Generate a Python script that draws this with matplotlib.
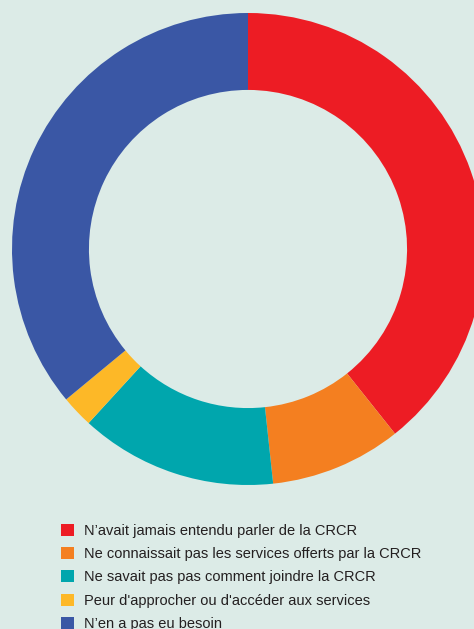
import matplotlib
matplotlib.use('Agg')
import matplotlib.pyplot as plt

# Raisons de ne pas avoir fait appel à la CRCR (%)
labels = [
    "N’avait jamais entendu parler de la CRCR",
    "Ne connaissait pas les services offerts par la CRCR",
    "Ne savait pas pas comment joindre la CRCR",
    "Peur d'approcher ou d'accéder aux services",
    "N’en a pas eu besoin",
]
values = [39.3, 9.0, 13.5, 2.2, 36.0]
colors = ['#ed1c24', '#f47f20', '#00a6ad', '#fdb827', '#3a57a5']
bg = '#dcebe7'

plt.rcParams['font.family'] = ['Liberation Sans', 'DejaVu Sans']

W, H = 474, 629
fig = plt.figure(figsize=(W / 100, H / 100), dpi=100, facecolor=bg)

# Donut centered at (248, 249) px with outer radius 236 px
cx, cy, r = 248, 249, 236
ax = fig.add_axes([(cx - r) / W, (H - cy - r) / H, 2 * r / W, 2 * r / H])
ax.set_facecolor(bg)
wedges, _ = ax.pie(values, colors=colors, startangle=90, counterclock=False,
                   radius=1, wedgeprops=dict(width=0.326, linewidth=0))
ax.set_xlim(-1, 1)
ax.set_ylim(-1, 1)
ax.set_aspect('equal')
ax.axis('off')

leg = fig.legend(wedges, labels, loc='upper left', bbox_to_anchor=(56.5 / W, 1 - 519.5 / H),
                 frameon=False, fontsize=10.5, handlelength=0.89, handleheight=0.89,
                 handletextpad=0.69, labelspacing=0.63, borderaxespad=0, borderpad=0.3)
for t in leg.get_texts():
    t.set_color('#231f20')

fig.savefig('out.png', dpi=100, facecolor=bg)
